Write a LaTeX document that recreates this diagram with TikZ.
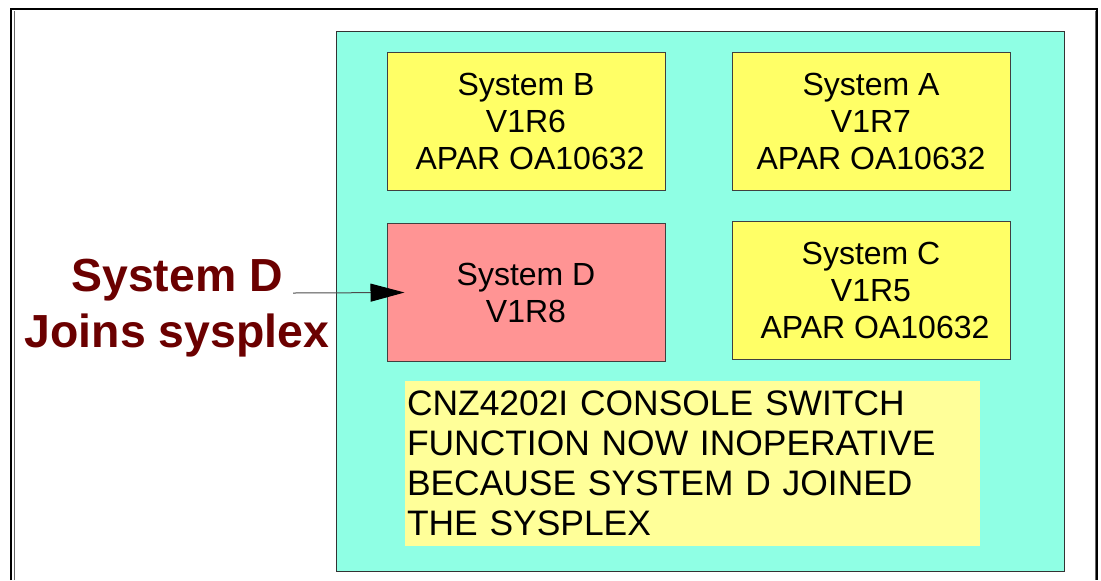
\documentclass[tikz,border=0pt]{standalone}
\usepackage{fontspec}
\setmainfont{Liberation Sans}
\usepackage{xcolor}
\usepackage{tikz}
\usetikzlibrary{arrows.meta}
\definecolor{plexteal}{HTML}{8FFFE4}
\definecolor{sysyellow}{HTML}{FFFF66}
\definecolor{syspink}{HTML}{FF9494}
\definecolor{msgyellow}{HTML}{FFFF99}
\definecolor{joinred}{HTML}{6B0000}

\begin{document}
\begin{tikzpicture}[x=0.5pt, y=-0.5pt, line width=0.5pt,
    sysbox/.style={draw=black!75, fill=sysyellow, minimum width=139pt, minimum height=69pt,
      align=center, inner sep=0pt, font=\fontsize{16pt}{18.5pt}\selectfont}]
  \useasboundingbox (0,0) rectangle (1101,580);
  % page frame
  \draw[line width=0.7pt] (11,580) -- (11,9) -- (1097,9) -- (1097,580);
  \draw[black!60] (14,580) -- (14,11);
  \draw[black!60] (1095,580) -- (1095,11);
  % sysplex
  \node[draw=black!80, fill=plexteal, minimum width=364pt, minimum height=270pt] (plex) at (700,301) {};
  \node[sysbox] (sysB) at (526,121) {System B\\V1R6\\\hspace*{4pt}APAR OA10632};
  \node[sysbox] (sysA) at (871,121) {System A\\V1R7\\APAR OA10632};
  \node[sysbox, fill=syspink] (sysD) at (526,292.5) {System D\\V1R8};
  \node[sysbox] (sysC) at (871,290.5) {System C\\V1R5\\\hspace*{4pt}APAR OA10632};
  \node[fill=msgyellow, minimum width=287.5pt, minimum height=82.5pt, inner xsep=1pt,
    text width=285.5pt, align=left, font=\fontsize{17.7pt}{20pt}\selectfont] (msg) at (692.5,463.5)
    {CNZ4202I CONSOLE SWITCH\\FUNCTION NOW INOPERATIVE\\BECAUSE SYSTEM D JOINED\\THE SYSPLEX};
  % joining system
  \node[align=center, text=joinred, font=\bfseries\fontsize{23.2pt}{28pt}\selectfont] (join) at (177,308)
    {System D\\Joins sysplex};
  \coordinate (joinfrom) at (293,293);
  \draw[black!70, -{Triangle[length=17pt, width=9pt, color=black]}] (joinfrom) -- ([xshift=9pt]sysD.west);
\end{tikzpicture}
\end{document}
